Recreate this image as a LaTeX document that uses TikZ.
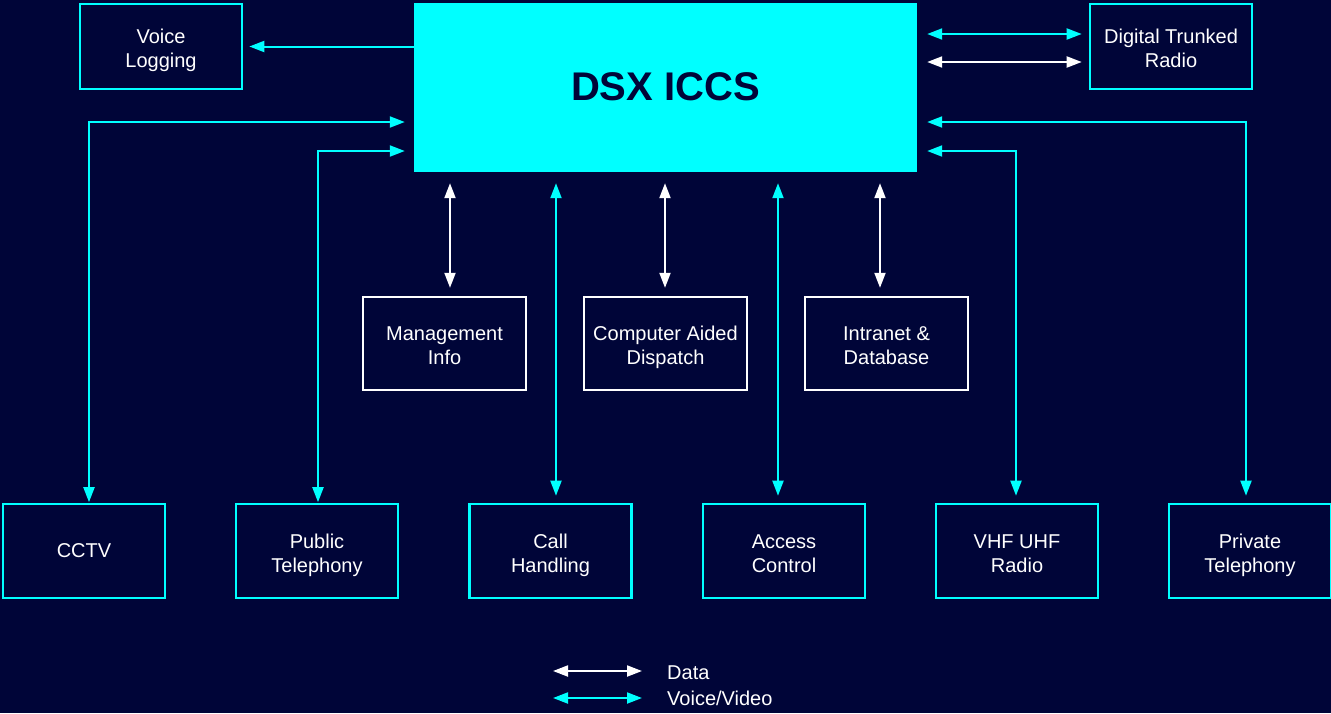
\documentclass[tikz,border=0pt]{standalone}
\usepackage{fontspec}
\setmainfont{Liberation Sans}
\usetikzlibrary{arrows.meta}
\definecolor{bg}{RGB}{0,5,56}
\definecolor{cy}{RGB}{0,255,255}
\definecolor{navy}{RGB}{0,5,56}
\newcommand{\twol}[2]{\rule{0pt}{23.6pt}#1\\#2\rule[-5pt]{0pt}{5pt}}
\tikzset{
  cybox/.style={draw=cy, line width=2.6pt, text=white, align=center, minimum width=162pt, inner sep=0pt, font=\fontsize{20}{24}\selectfont},
  whbox/.style={draw=white, line width=2.4pt, text=white, align=center, minimum width=163pt, minimum height=93pt, inner sep=0pt, font=\fontsize{20}{24}\selectfont},
  tip/.style={Triangle[length=15pt,width=11pt]},
  vv/.style={cy, line width=2pt, {Triangle[length=15pt,width=11pt]}-{Triangle[length=15pt,width=11pt]}},
  dd/.style={white, line width=2pt, {Triangle[length=15pt,width=11pt]}-{Triangle[length=15pt,width=11pt]}},
  vone/.style={cy, line width=2pt, -{Triangle[length=15pt,width=11pt]}},
  lab/.style={text=white, anchor=west, inner sep=0pt, font=\fontsize{20}{24}\selectfont}
}
\begin{document}
\begin{tikzpicture}[x=1pt,y=-1pt]
\useasboundingbox[fill=bg] (0,0) rectangle (1331,713);
% main box
\node[fill=cy, minimum width=503pt, minimum height=169pt, inner sep=0pt, text=navy, font=\fontsize{40}{48}\selectfont\bfseries] (dsx) at (665.5,87.5) {DSX ICCS\rule[-2pt]{0pt}{2pt}};
% top side boxes
\node[cybox, minimum height=85pt] (vl) at (161,46.5) {\twol{Voice}{Logging}};
\node[cybox, minimum height=85pt] (dtr) at (1171,46.5) {\twol{Digital Trunked}{Radio}};
% middle data boxes
\node[whbox] (mi) at (444.5,343.5) {\twol{Management}{Info}};
\node[whbox] (cad) at (665.5,343.5) {\twol{Computer Aided}{Dispatch}};
\node[whbox] (idb) at (886.5,343.5) {\twol{Intranet \&}{Database}};
% bottom boxes
\node[cybox, minimum height=94pt] (cctv) at (84,551) {CCTV};
\node[cybox, minimum height=94pt] (pt) at (317,551) {\twol{Public}{Telephony}};
\node[cybox, minimum height=94pt] (ch) at (550.5,551) {\twol{Call}{Handling}};
\node[cybox, minimum height=94pt] (ac) at (784,551) {\twol{Access}{Control}};
\node[cybox, minimum height=94pt] (vhf) at (1017,551) {\twol{VHF UHF}{Radio}};
\node[cybox, minimum height=94pt] (ptel) at (1250,551) {\twol{Private}{Telephony}};
% helper coordinates
\coordinate (ya) at (0,122);
\coordinate (yb) at (0,151);
\coordinate (yc) at (0,34);
\coordinate (yd) at (0,62);
% voice logging
\draw[vone, shorten >=6pt] (dsx.west |- vl) -- (vl.east);
% digital trunked radio
\draw[vv, shorten <=10pt, shorten >=7pt] (dsx.east |- yc) -- (dtr.west |- yc);
\draw[dd, shorten <=10pt, shorten >=7pt] (dsx.east |- yd) -- (dtr.west |- yd);
% L-shaped voice/video links
\draw[vv, shorten <=0.5pt, shorten >=9pt] ([xshift=5pt]cctv.north) |- (dsx.west |- ya);
\draw[vv, shorten <=0.5pt, shorten >=9pt] ([xshift=1pt]pt.north) |- (dsx.west |- yb);
\draw[vv, shorten <=7pt, shorten >=10pt] ([xshift=-1pt]vhf.north) |- (dsx.east |- yb);
\draw[vv, shorten <=7pt, shorten >=10pt] ([xshift=-4pt]ptel.north) |- (dsx.east |- ya);
% vertical voice/video
\draw[vv, shorten <=7pt, shorten >=11pt] ([xshift=5.5pt]ch.north) -- ([xshift=5.5pt]ch.north |- dsx.south);
\draw[vv, shorten <=7pt, shorten >=11pt] ([xshift=-6pt]ac.north) -- ([xshift=-6pt]ac.north |- dsx.south);
% vertical data
\draw[dd, shorten <=8pt, shorten >=11pt] ([xshift=5.5pt]mi.north) -- ([xshift=5.5pt]mi.north |- dsx.south);
\draw[dd, shorten <=8pt, shorten >=11pt] ([xshift=-0.5pt]cad.north) -- ([xshift=-0.5pt]cad.north |- dsx.south);
\draw[dd, shorten <=8pt, shorten >=11pt] ([xshift=-6.5pt]idb.north) -- ([xshift=-6.5pt]idb.north |- dsx.south);
% legend
\node[lab] (ldata) at (667,673) {Data};
\node[lab] (lvoice) at (667,698) {Voice/Video};
\coordinate (la) at (553,671);
\coordinate (lb) at (553,698);
\draw[dd, shorten >=25pt] (la) -- (la -| ldata.west);
\draw[vv, shorten >=25pt] (lb) -- (lb -| lvoice.west);
\end{tikzpicture}
\end{document}
